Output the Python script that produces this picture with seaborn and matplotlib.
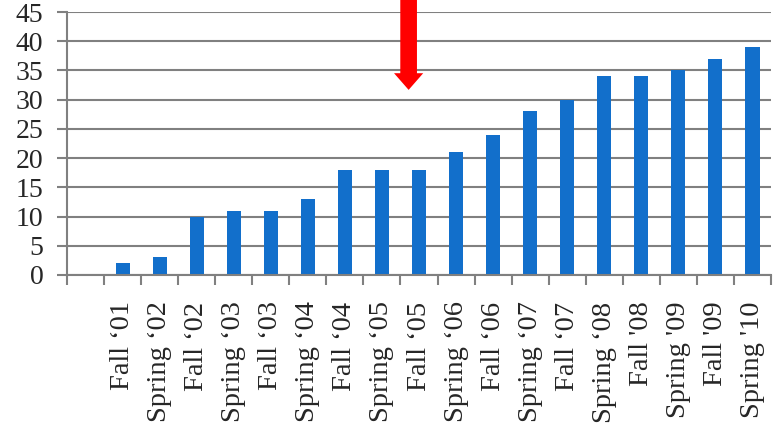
import matplotlib.pyplot as plt
import numpy as np
import pandas as pd
import seaborn as sns

sns.set_theme(style="white")
plt.rcParams["font.family"] = ["Liberation Serif", "DejaVu Serif"]

# Data (first slot is empty in the original)
semesters = [
    "", "Fall \u201801", "Spring \u201802", "Fall \u201802", "Spring \u201803",
    "Fall \u201803", "Spring \u201804", "Fall \u201804", "Spring \u201805",
    "Fall \u201805", "Spring \u201806", "Fall \u201806", "Spring \u201807",
    "Fall \u201807", "Spring \u201808", "Fall '08", "Spring '09",
    "Fall '09", "Spring '10",
]
counts = [0, 2, 3, 10, 11, 11, 13, 18, 18, 18, 21, 24, 28, 30, 34, 34, 35, 37, 39]
y_ticks = [0, 5, 10, 15, 20, 25, 30, 35, 40, 45]

# red marker arrow (data coords)
arrow_x = 8.72
arrow_tip = 31.2
arrow_top = 48.0

BAR_COLOR = "#126fcb"
GRID_COLOR = "#808080"

df = pd.DataFrame({"semester": semesters, "count": counts})

fig = plt.figure(figsize=(7.79, 4.30), dpi=100)
ax = fig.add_axes([67 / 779, 155 / 430, 704 / 779, 263 / 430])

sns.barplot(
    data=df,
    x="semester",
    y="count",
    order=semesters,
    color=BAR_COLOR,
    saturation=1,
    width=0.38,
    linewidth=0,
    ax=ax,
)

ax.set_xlim(-0.5, len(semesters) - 0.5)
ax.set_ylim(0, 45)
ax.set_yticks(y_ticks)
ax.set_xlabel("")
ax.set_ylabel("")

# grid + spines
ax.yaxis.grid(True, color=GRID_COLOR, linewidth=1.5)
ax.set_axisbelow(True)
for side in ["top", "right"]:
    ax.spines[side].set_visible(False)
for side in ["left", "bottom"]:
    ax.spines[side].set_color(GRID_COLOR)
    ax.spines[side].set_linewidth(1.5)

# tick marks between categories
ax.set_xticks(np.arange(-0.5, len(semesters)), minor=True)
ax.tick_params(axis="x", which="major", length=0, pad=19, labelsize=20.5, rotation=90)
ax.tick_params(axis="x", which="minor", length=7, width=1.5, color=GRID_COLOR,
               direction="out", bottom=True)
ax.tick_params(axis="y", length=7, width=1.5, color=GRID_COLOR, direction="out",
               left=True, labelsize=20, pad=10)

ax.annotate(
    "",
    xy=(arrow_x, arrow_tip),
    xytext=(arrow_x, arrow_top),
    arrowprops=dict(arrowstyle="simple,head_length=0.6,head_width=1.05,tail_width=0.6",
                    color="#ff0000", lw=0, mutation_scale=20),
    annotation_clip=False,
)

fig.savefig("out.png", dpi=100, facecolor="white")
